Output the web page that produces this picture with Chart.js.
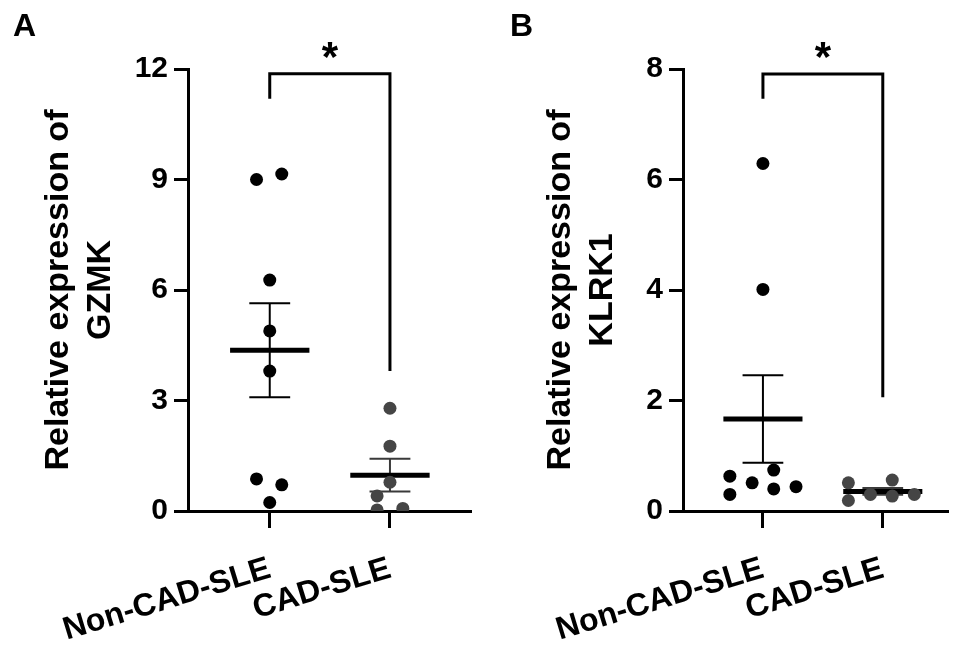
<!DOCTYPE html>
<html>
<head>
<meta charset="utf-8">
<script src="https://cdn.jsdelivr.net/npm/chart.js@4.4.1/dist/chart.umd.min.js"></script>
<style>
  html, body { margin: 0; padding: 0; background: #fff; }
  #wrap { width: 954px; height: 645px; position: relative; overflow: hidden; }
  canvas { position: absolute; top: 0; }
  #cA { left: 0; }
  #cB { left: 477px; }
</style>
</head>
<body>
<div id="wrap">
  <canvas id="cA" width="477" height="645"></canvas>
  <canvas id="cB" width="477" height="645"></canvas>
</div>
<script>
// ---------- DATA ----------
const categories = ['Non-CAD-SLE', 'CAD-SLE'];

// Panel A: GZMK
const gzmkNonCAD = [9.00, 9.15, 6.27, 4.89, 3.80, 0.87, 0.71, 0.23];
const gzmkCAD    = [2.79, 1.76, 0.78, 0.41, 0.03, 0.07];
// Panel B: KLRK1
const klrk1NonCAD = [6.29, 4.01, 0.63, 0.74, 0.51, 0.40, 0.44, 0.30];
const klrk1CAD    = [0.51, 0.56, 0.19, 0.30, 0.27, 0.30];

// horizontal scatter offsets (category units) of each dot, as seen
const jitGzmkNonCAD  = [-0.11, 0.10, 0, 0, 0, -0.11, 0.10, 0];
const jitGzmkCAD     = [0, 0, 0, -0.107, -0.107, 0.107];
const jitKlrk1NonCAD = [0, 0, -0.276, 0.09, -0.09, 0.09, 0.276, -0.276];
const jitKlrk1CAD    = [-0.287, 0.079, -0.287, -0.103, 0.079, 0.263];

// y-axis ticks
const yTicksA = [0, 3, 6, 9, 12];
const yTicksB = [0, 2, 4, 6, 8];

// significance brackets: [left foot, top, right foot] in y units
const bracketA = [11.19, 11.87, 3.80];
const bracketB = [7.46, 7.91, 2.06];
const sigLabel = '*';

// ---------- HELPERS ----------
const FONT = "'Liberation Sans', Arial, sans-serif";
function mean(a) { return a.reduce((s, v) => s + v, 0) / a.length; }
function sem(a) {
  const m = mean(a);
  const v = a.reduce((s, x) => s + (x - m) * (x - m), 0) / (a.length - 1);
  return Math.sqrt(v) / Math.sqrt(a.length);
}
function pts(vals, jit, cat) { return vals.map((v, i) => ({ x: cat + jit[i], y: v })); }

function summaryDatasets(vals, cat, color) {
  const m = mean(vals), s = sem(vals);
  const mw = 0.33, cw = 0.17;
  return [
    {
      type: 'line', data: [{ x: cat - mw, y: m }, { x: cat + mw, y: m }],
      borderColor: '#000', borderWidth: 5, pointRadius: 0, showLine: true, borderCapStyle: 'butt'
    },
    {
      type: 'line',
      data: [
        { x: cat - cw, y: m + s }, { x: cat + cw, y: m + s }, { x: cat, y: null },
        { x: cat, y: m + s }, { x: cat, y: m - s }, { x: cat + 0.001, y: null },
        { x: cat - cw, y: m - s }, { x: cat + cw, y: m - s }
      ],
      borderColor: color, borderWidth: 2, pointRadius: 0, showLine: true, spanGaps: false
    }
  ];
}

function bracketDataset(b) {
  return {
    type: 'line',
    data: [{ x: 0, y: b[0] }, { x: 0, y: b[1] }, { x: 1, y: b[1] }, { x: 1, y: b[2] }],
    borderColor: '#000', borderWidth: 3, pointRadius: 0, showLine: true,
    borderJoinStyle: 'miter', borderCapStyle: 'butt'
  };
}

const decorPlugin = {
  id: 'decor',
  afterDraw(chart, args, opts) {
    const ctx = chart.ctx;
    const xs = chart.scales.x, ys = chart.scales.y;
    ctx.save();
    ctx.fillStyle = '#000';
    // significance star
    ctx.font = 'bold 42px ' + FONT;
    ctx.textAlign = 'center';
    ctx.textBaseline = 'alphabetic';
    ctx.fillText(sigLabel, xs.getPixelForValue(0.5), ys.getPixelForValue(opts.bracket[1]) - 3);
    // panel letter
    ctx.font = 'bold 32px ' + FONT;
    ctx.textAlign = 'left';
    ctx.fillText(opts.letter, opts.letterX, 36);
    ctx.restore();
  }
};

function makeChart(id, cfg) {
  const ctx = document.getElementById(id);
  return new Chart(ctx, {
    type: 'scatter',
    data: {
      datasets: [
        { data: pts(cfg.nonCad, cfg.jitNon, 0), backgroundColor: '#000', borderColor: '#000', pointRadius: 6.5, borderWidth: 0 },
        { data: pts(cfg.cad, cfg.jitCad, 1), backgroundColor: '#454545', borderColor: '#454545', pointRadius: 6.5, borderWidth: 0 },
        ...summaryDatasets(cfg.nonCad, 0, '#000'),
        ...summaryDatasets(cfg.cad, 1, '#3a3a3a'),
        bracketDataset(cfg.bracket)
      ]
    },
    options: {
      responsive: false,
      animation: false,
      devicePixelRatio: 1,
      layout: { padding: { top: 69, right: cfg.padRight, left: 0, bottom: 0 } },
      plugins: {
        legend: { display: false },
        tooltip: { enabled: false },
        decor: { bracket: cfg.bracket, letter: cfg.letter, letterX: cfg.letterX }
      },
      scales: {
        x: {
          type: 'linear',
          min: cfg.xMin, max: cfg.xMax,
          afterBuildTicks: (s) => { s.ticks = [{ value: 0 }, { value: 1 }]; },
          afterFit: (s) => { s.height = 134; s.paddingLeft = 0; s.paddingRight = 0; },
          ticks: {
            callback: (v) => categories[v],
            autoSkip: false, maxRotation: 17, minRotation: 17,
            color: '#000', padding: 22,
            font: { family: FONT, size: 32, weight: 'bold' }
          },
          grid: { display: true, drawOnChartArea: false, drawTicks: true, tickLength: 17, lineWidth: 3, color: '#000' },
          border: { display: true, width: 3, color: '#000' }
        },
        y: {
          type: 'linear',
          min: 0, max: cfg.yTicks[cfg.yTicks.length - 1],
          afterBuildTicks: (s) => { s.ticks = cfg.yTicks.map(v => ({ value: v })); },
          afterFit: (s) => { s.width = cfg.axisX; s.paddingTop = 0; s.paddingBottom = 0; },
          ticks: {
            color: '#000', padding: 6,
            font: { family: FONT, size: 30, weight: 'bold' }
          },
          grid: { display: true, drawOnChartArea: false, drawTicks: true, tickLength: 14, lineWidth: 3, color: '#000' },
          border: { display: true, width: 3, color: '#000' },
          title: {
            display: true,
            text: ['Relative expression of', cfg.gene],
            color: '#000',
            font: { family: FONT, size: 34, weight: 'bold', lineHeight: 1.25 },
            padding: { top: cfg.titlePad, bottom: 0 }
          }
        }
      }
    },
    plugins: [decorPlugin]
  });
}

makeChart('cA', {
  nonCad: gzmkNonCAD, cad: gzmkCAD, jitNon: jitGzmkNonCAD, jitCad: jitGzmkCAD,
  yTicks: yTicksA, bracket: bracketA, gene: 'GZMK', letter: 'A', letterX: 13,
  axisX: 188, xMin: -0.68, xMax: 1.67, padRight: 5, titlePad: 37
});
makeChart('cB', {
  nonCad: klrk1NonCAD, cad: klrk1CAD, jitNon: jitKlrk1NonCAD, jitCad: jitKlrk1CAD,
  yTicks: yTicksB, bracket: bracketB, gene: 'KLRK1', letter: 'B', letterX: 33,
  axisX: 206, xMin: -0.667, xMax: 1.54, padRight: 0, titlePad: 62
});
</script>
</body>
</html>
